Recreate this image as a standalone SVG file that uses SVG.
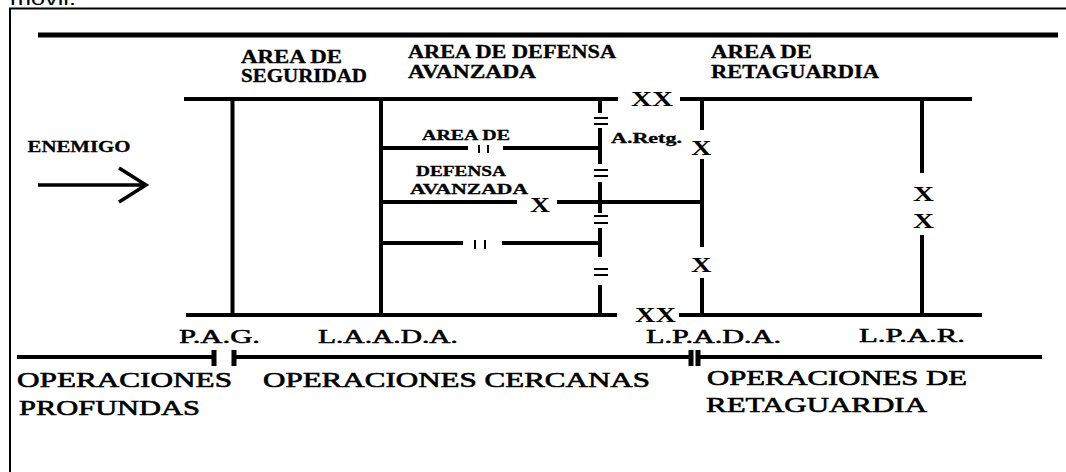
<svg xmlns="http://www.w3.org/2000/svg" width="1066" height="472" viewBox="0 0 1066 472">
<style>
.ln{stroke:#000;stroke-width:4;fill:none}
.thin{stroke:#000;stroke-width:2;fill:none}
.hb{font-family:"Liberation Serif","Times New Roman",serif;font-weight:bold;font-size:18px;fill:#000;stroke:#000;stroke-width:0.3}
.sb{font-family:"Liberation Serif","Times New Roman",serif;font-weight:bold;font-size:14px;fill:#000;stroke:#000;stroke-width:0.3}
.xb{font-family:"Liberation Serif","Times New Roman",serif;font-weight:bold;font-size:22px;fill:#000}
.lr{font-family:"Liberation Serif","Times New Roman",serif;font-size:18px;fill:#000;stroke:#000;stroke-width:0.5}
.op{font-family:"Liberation Serif","Times New Roman",serif;font-size:21px;fill:#000;stroke:#000;stroke-width:0.6}
.top{font-family:"Liberation Sans",Arial,sans-serif;font-size:18px;fill:#000}
</style>
<rect width="1066" height="472" fill="#fff"/>
<text class="top" x="10" y="5" textLength="66" lengthAdjust="spacingAndGlyphs">móvil.</text>
<g id="frame">
<path class="thin" d="M10,472 V8.5 H1066"/>
</g>
<g id="connectors">
<line x1="38" y1="35" x2="1058" y2="35" stroke="#000" stroke-width="5"/>
<path class="ln" d="M184,99 H618 M680,99 H972"/>
<path class="ln" d="M186,315 H617 M679,315 H982"/>
<path class="ln" d="M232.5,99 V315 M381,99 V315"/>
<path class="ln" d="M702,99 V130 M702,159 V247 M702,278 V315"/>
<path class="ln" d="M922,99 V173 M922,235 V315"/>
<path class="ln" d="M600,99 V113 M600,128 V164 M600,182 V213 M600,228 V257 M600,285 V315"/>
<path class="thin" d="M594,118 H608 M594,124 H608 M594,170 H608 M594,176 H608 M594,216 H608 M594,223 H608 M594,269 H608 M594,275 H608"/>
<path class="ln" d="M381,148 H468 M503,148 H600"/>
<path class="ln" d="M381,202 H517 M557,202 H704"/>
<path class="ln" d="M381,243 H463 M502,243 H600"/>
<path class="thin" d="M479,145 V153 M488,145 V153 M475,240 V249 M485,240 V249"/>
<path d="M38,185 H145 M119,168 L146,185 L119,202" stroke="#000" stroke-width="3.5" fill="none"/>
<path class="ln" d="M17,357 H214 M234,357 H691 M698,357 H1042"/>
<path d="M214,350 V366 M234,350 V366 M691,350 V366 M698,350 V366" stroke="#000" stroke-width="5" fill="none"/>
</g>
<g id="area-seguridad">
<text class="hb" x="241" y="63" textLength="101" lengthAdjust="spacingAndGlyphs">AREA DE</text>
<text class="hb" x="241" y="82" textLength="126" lengthAdjust="spacingAndGlyphs">SEGURIDAD</text>
</g>
<g id="area-defensa">
<text class="hb" x="408" y="58" textLength="208" lengthAdjust="spacingAndGlyphs">AREA DE DEFENSA</text>
<text class="hb" x="408" y="78" textLength="128" lengthAdjust="spacingAndGlyphs">AVANZADA</text>
</g>
<g id="area-retaguardia">
<text class="hb" x="711" y="58" textLength="101" lengthAdjust="spacingAndGlyphs">AREA DE</text>
<text class="hb" x="711" y="78" textLength="168" lengthAdjust="spacingAndGlyphs">RETAGUARDIA</text>
</g>
<g id="enemigo">
<text class="sb" style="font-size:17px" x="27.5" y="152" textLength="103" lengthAdjust="spacingAndGlyphs">ENEMIGO</text>
</g>
<g id="inner-labels">
<text class="sb" x="422" y="139.5" textLength="88" lengthAdjust="spacingAndGlyphs">AREA DE</text>
<text class="sb" x="416" y="176" textLength="90" lengthAdjust="spacingAndGlyphs">DEFENSA</text>
<text class="sb" x="410" y="194" textLength="118" lengthAdjust="spacingAndGlyphs">AVANZADA</text>
<text class="sb" x="611" y="142.5" textLength="71" lengthAdjust="spacingAndGlyphs">A.Retg.</text>
</g>
<g id="echelon-marks">
<text class="xb" x="631" y="105.5" textLength="42" lengthAdjust="spacingAndGlyphs">XX</text>
<text class="xb" x="635" y="322" textLength="41" lengthAdjust="spacingAndGlyphs">XX</text>
<text class="xb" x="530" y="212" textLength="20" lengthAdjust="spacingAndGlyphs">X</text>
<text class="xb" x="691" y="154.5" textLength="20.5" lengthAdjust="spacingAndGlyphs">X</text>
<text class="xb" x="691" y="272" textLength="20.5" lengthAdjust="spacingAndGlyphs">X</text>
<text class="xb" x="913" y="200.5" textLength="21" lengthAdjust="spacingAndGlyphs">X</text>
<text class="xb" x="913" y="227.5" textLength="21" lengthAdjust="spacingAndGlyphs">X</text>
</g>
<g id="line-labels">
<text class="lr" x="179" y="343" textLength="81" lengthAdjust="spacingAndGlyphs">P.A.G.</text>
<text class="lr" x="318" y="343" textLength="140" lengthAdjust="spacingAndGlyphs">L.A.A.D.A.</text>
<text class="lr" x="646" y="343" textLength="135" lengthAdjust="spacingAndGlyphs">L.P.A.D.A.</text>
<text class="lr" x="859" y="342" textLength="106" lengthAdjust="spacingAndGlyphs">L.P.A.R.</text>
</g>
<g id="operaciones-profundas">
<text class="op" x="17" y="387" textLength="215" lengthAdjust="spacingAndGlyphs">OPERACIONES</text>
<text class="op" x="19" y="415" textLength="181" lengthAdjust="spacingAndGlyphs">PROFUNDAS</text>
</g>
<g id="operaciones-cercanas">
<text class="op" x="263" y="387" textLength="387" lengthAdjust="spacingAndGlyphs">OPERACIONES CERCANAS</text>
</g>
<g id="operaciones-retaguardia">
<text class="op" x="707" y="385" textLength="260" lengthAdjust="spacingAndGlyphs">OPERACIONES DE</text>
<text class="op" x="706" y="412" textLength="221" lengthAdjust="spacingAndGlyphs">RETAGUARDIA</text>
</g>
</svg>
